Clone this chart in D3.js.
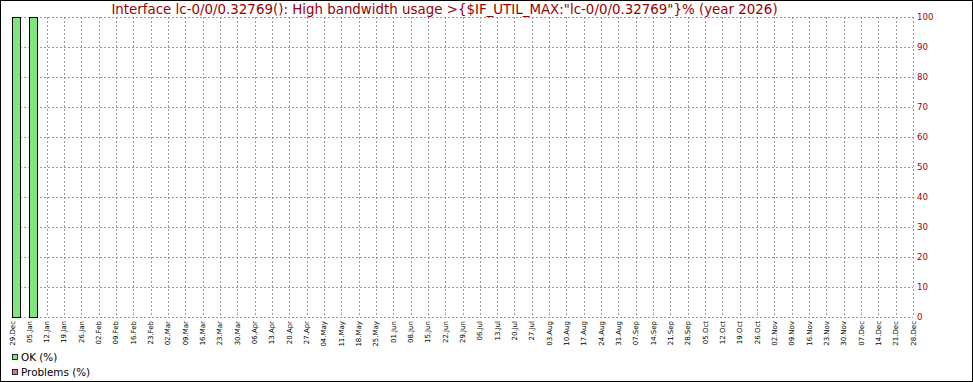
<!DOCTYPE html>
<html><head><meta charset="utf-8">
<script src="https://cdn.jsdelivr.net/npm/d3@7/dist/d3.min.js"></script>
<style>body{margin:0;background:#fff}svg{display:block}</style>
</head><body>
<svg id="c" width="973" height="382"></svg>
<script>
const titleText = 'Interface lc-0/0/0.32769(): High bandwidth usage >{$IF_UTIL_MAX:"lc-0/0/0.32769"}% (year 2026)';
const weekLabels = ["29.Dec","05.Jan","12.Jan","19.Jan","26.Jan","02.Feb","09.Feb","16.Feb","23.Feb","02.Mar","09.Mar","16.Mar","23.Mar","30.Mar","06.Apr","13.Apr","20.Apr","27.Apr","04.May","11.May","18.May","25.May","01.Jun","08.Jun","15.Jun","22.Jun","29.Jun","06.Jul","13.Jul","20.Jul","27.Jul","03.Aug","10.Aug","17.Aug","24.Aug","31.Aug","07.Sep","14.Sep","21.Sep","28.Sep","05.Oct","12.Oct","19.Oct","26.Oct","02.Nov","09.Nov","16.Nov","23.Nov","30.Nov","07.Dec","14.Dec","21.Dec","28.Dec"];
const okValues = [100,100,0,0,0,0,0,0,0,0,0,0,0,0,0,0,0,0,0,0,0,0,0,0,0,0,0,0,0,0,0,0,0,0,0,0,0,0,0,0,0,0,0,0,0,0,0,0,0,0,0,0];
const problemValues = [0,0,0,0,0,0,0,0,0,0,0,0,0,0,0,0,0,0,0,0,0,0,0,0,0,0,0,0,0,0,0,0,0,0,0,0,0,0,0,0,0,0,0,0,0,0,0,0,0,0,0,0];
const yTicks = [0,10,20,30,40,50,60,70,80,90,100];
const seriesNames = ["OK (%)","Problems (%)"];
const seriesColors = ["#7ce97a","#e87878"];

const svg = d3.select("#c");
const L = 12, R = 913, T = 17, B = 317;
const nWeeks = okValues.length;
const x = d3.scaleLinear().domain([0, nWeeks]).range([L, R]);
const y = d3.scaleLinear().domain([0, 100]).range([B, T]);
const slot = (R - L) / nWeeks;

svg.append("rect").attr("x",0.5).attr("y",0.5).attr("width",972).attr("height",381)
  .attr("fill","#fff").attr("stroke","#000");

// grid
const g = svg.append("g").attr("stroke","#9a9a9a").attr("stroke-dasharray","2,2").attr("shape-rendering","crispEdges");
yTicks.forEach(t => g.append("line").attr("x1",L).attr("x2",R).attr("y1",Math.round(y(t))+0.5).attr("y2",Math.round(y(t))+0.5));
d3.range(nWeeks+1).forEach(i => g.append("line").attr("x1",Math.round(x(i))+0.5).attr("x2",Math.round(x(i))+0.5).attr("y1",T).attr("y2",B));

// bars
const bars = svg.append("g").attr("shape-rendering","crispEdges");
[okValues, problemValues].forEach((vals, s) => {
  vals.forEach((v, i) => {
    if (v <= 0) return;
    const x0 = Math.round(x(i) + s*slot/2), x1 = Math.round(x(i) + (s+1)*slot/2);
    bars.append("rect").attr("x",x0+0.5).attr("y",Math.round(y(v))+0.5)
      .attr("width",x1-x0-1).attr("height",Math.round(y(0))-Math.round(y(v)))
      .attr("fill",seriesColors[s]).attr("stroke","#000");
  });
});

// y labels (right)
svg.append("g").selectAll("text").data(yTicks).join("text")
  .attr("x",917).attr("y",d=>y(d)).attr("dy","0.35em")
  .attr("font-family","DejaVu Sans").attr("font-size","8.7px").attr("fill","#aa0000")
  .text(d=>d);

// x labels
svg.append("g").selectAll("text").data(weekLabels).join("text")
  .attr("transform",(d,i)=>`translate(${x(i)+2.5},321) rotate(-90)`)
  .attr("text-anchor","end")
  .attr("font-family","DejaVu Sans").attr("font-size","7px").attr("fill","#000")
  .text(d=>d);

// title
svg.append("text").attr("x",444.5).attr("y",14).attr("text-anchor","middle")
  .attr("font-family","DejaVu Sans").attr("font-size","13.4px").attr("fill","#990000")
  .text(titleText);

// legend
const lg = svg.append("g");
seriesNames.forEach((n, i) => {
  const cy = 357 + i*15;
  lg.append("rect").attr("x",12.5).attr("y",cy-2.5).attr("width",5).attr("height",5)
    .attr("fill",seriesColors[i]).attr("stroke","#000").attr("stroke-width",0.8);
  lg.append("text").attr("x",21).attr("y",cy).attr("dy","0.35em")
    .attr("font-family","DejaVu Sans").attr("font-size","10.4px").attr("fill","#000").text(n);
});
</script>
</body></html>
